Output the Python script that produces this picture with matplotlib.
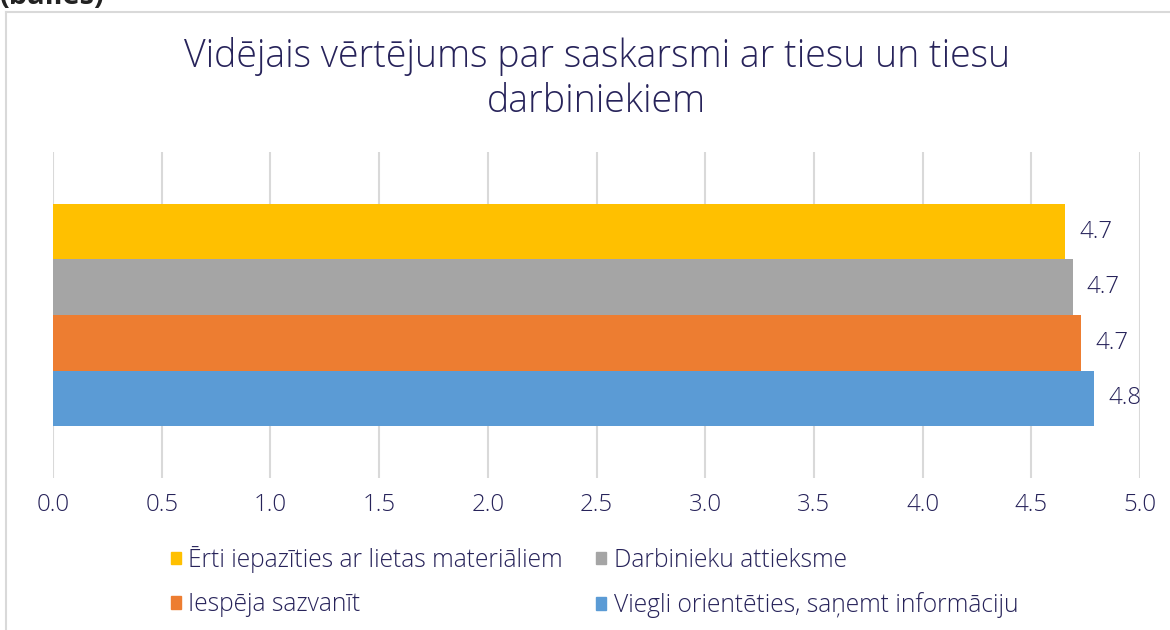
import matplotlib
matplotlib.use("Agg")
import matplotlib.pyplot as plt
from matplotlib.patches import Patch
from matplotlib.lines import Line2D

series = ["Ērti iepazīties ar lietas materiāliem", "Darbinieku attieksme",
          "Iespēja sazvanīt", "Viegli orientēties, saņemt informāciju"]
values = [4.655, 4.69, 4.73, 4.79]
colors = ["#FFC000", "#A5A5A5", "#ED7D31", "#5B9BD5"]
xticks = [0.0, 0.5, 1.0, 1.5, 2.0, 2.5, 3.0, 3.5, 4.0, 4.5, 5.0]
title = "Vidējais vērtējums par saskarsmi ar tiesu un tiesu\ndarbiniekiem"

TXT = "#27235a"
GRID = "#d9d9d9"
FS = 17.3
LFS = 17.7
plt.rcParams['font.family'] = ['Open Sans', 'DejaVu Sans']
plt.rcParams['font.weight'] = 'light'

fig = plt.figure(figsize=(11.7, 6.3), dpi=100)
ax = fig.add_axes([53/1170, 1-478/630, (1140-53)/1170, (478-152)/630])

ypos = [3, 2, 1, 0]
for y, v, c in zip(ypos, values, colors):
    ax.barh(y, v, height=1.0, color=c, zorder=2)
    ax.text(v + 0.065, y, f"{v:.1f}", va="center", ha="left", fontsize=FS, color=TXT)

ax.set_xlim(0, 5)
ax.set_ylim(-1.435, 4.435)
ax.set_xticks(xticks)
ax.set_xticklabels([f"{t:.1f}" for t in xticks], fontsize=FS, color=TXT)
ax.set_yticks([])
ax.tick_params(axis="x", length=0, pad=11)
for s in ax.spines.values():
    s.set_visible(False)
ax.grid(axis="x", color=GRID, linewidth=1.5, zorder=0)

fig.text(0.51, 1-79/630, title, ha="center", va="center", fontsize=27,
         color=TXT, linespacing=1.2)

# frame
fig.add_artist(Line2D([6/1170, 6/1170], [0, 1-12/630], color=GRID, lw=1.5))
fig.add_artist(Line2D([6/1170, 1], [1-12/630, 1-12/630], color=GRID, lw=1.5))
fig.text(0.0, 1-(-4)/630, "(balles)", ha="left", va="center", fontsize=21,
         fontweight="bold", color="#222222")

order = [0, 2, 1, 3]
handles = [Patch(color=colors[i]) for i in order]
labels = [series[i] for i in order]
leg = fig.legend(handles, labels, ncol=2, loc="center left",
                 bbox_to_anchor=(171/1170, 1-582/630), frameon=False,
                 fontsize=LFS, handlelength=0.41, handleheight=0.41,
                 handletextpad=0.3, columnspacing=1.35, labelspacing=0.78,
                 borderaxespad=0, borderpad=0)
for t in leg.get_texts():
    t.set_color(TXT)

fig.savefig("out.png", dpi=100)
